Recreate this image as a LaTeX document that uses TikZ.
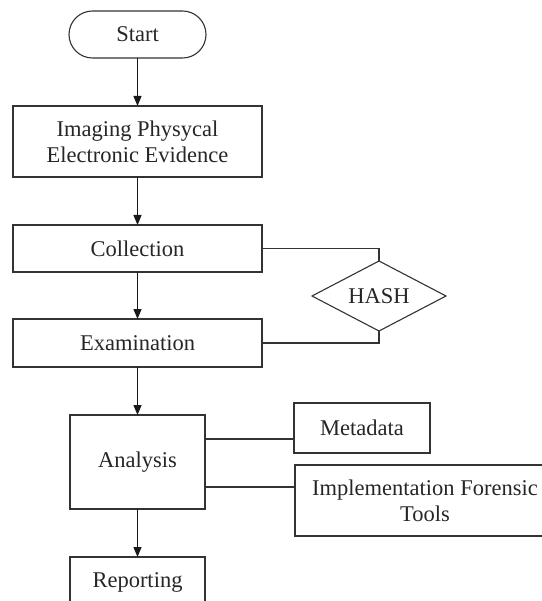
\documentclass[tikz,border=0pt]{standalone}
\usepackage{fontspec}
\setmainfont{Liberation Serif}
\usetikzlibrary{arrows.meta,shapes.geometric}
\begin{document}
\begin{tikzpicture}[x=1pt,y=-1pt,
  every node/.style={font=\fontsize{22.5}{26}\selectfont, text=black!85},
  box/.style={draw=black!80, line width=1.1pt, rectangle, inner sep=0pt, outer sep=0pt, align=center},
  term/.style={box, rounded corners=23.5pt},
  dec/.style={draw=black!80, line width=1.1pt, diamond, shape aspect=1.9, inner sep=0pt, outer sep=0pt},
  flow/.style={draw=black!90, line width=1.1pt, -{Triangle[length=10pt,width=8pt]}},
  link/.style={draw=black!80, line width=1.1pt}]
\useasboundingbox (0,0) rectangle (541,601);
\node[term, minimum width=137pt, minimum height=47pt] (start) at (137.5,34.5) {Start};
\node[box, minimum width=249pt, minimum height=71pt] (img) at (137.5,141.5) {Imaging Physycal\\Electronic Evidence};
\node[box, minimum width=249pt, minimum height=47pt] (coll) at (137.5,248.5) {Collection};
\node[dec, minimum width=134pt, minimum height=70pt] (hash) at (379,296) {HASH};
\node[box, minimum width=249pt, minimum height=48pt] (exam) at (137.5,343) {Examination};
\node[box, minimum width=135pt, minimum height=94pt] (ana) at (137.5,462) {Analysis};
\node[box, minimum width=136pt, minimum height=50pt] (meta) at (362,428) {Metadata};
\node[box, minimum width=260pt, minimum height=71pt] (impl) at (425,500.5) {Implementation Forensic\\Tools};
\node[box, minimum width=135pt, minimum height=50pt] (rep) at (137.5,582) {Reporting};
\draw[flow] (start) -- (img);
\draw[flow] (img) -- (coll);
\draw[flow] (coll) -- (exam);
\draw[flow] (exam) -- (ana);
\draw[flow] (ana) -- (rep);
\draw[link] (coll.east) -| (hash.north);
\draw[link] (exam.east) -| (hash.south);
\draw[link] ([yshift=23pt]ana.east) -- ([yshift=23pt]ana.east -| meta.west);
\draw[link] ([yshift=-25pt]ana.east) -- ([yshift=-25pt]ana.east -| impl.west);
\end{tikzpicture}
\end{document}
